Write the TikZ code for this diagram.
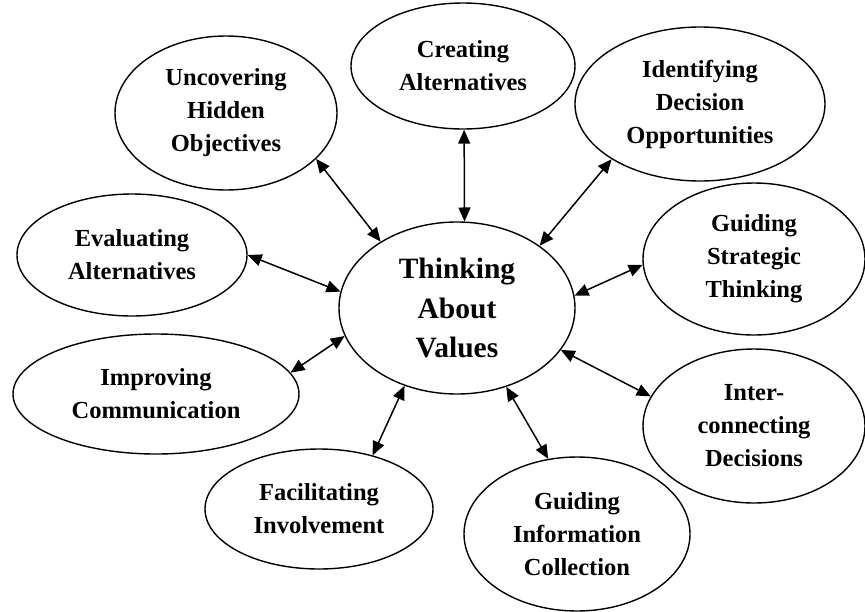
\documentclass[tikz,border=0pt]{standalone}
\usepackage{fontspec}
\setmainfont{Liberation Serif}
\usetikzlibrary{shapes.geometric,arrows.meta}
\tikzset{
  bubble/.style={ellipse, draw=black, line width=1.4pt, inner sep=0pt, align=center,
    font=\fontsize{24.5}{33}\selectfont\bfseries},
  link/.style={line width=1.5pt, {Triangle[length=14pt,width=12pt]}-{Triangle[length=14pt,width=12pt]}}
}
\begin{document}
\begin{tikzpicture}[x=1pt,y=-1pt]
\useasboundingbox (0,0) rectangle (865,611);
\node[bubble, minimum width=236pt, minimum height=172pt,
  font=\fontsize{29.5}{39.5}\selectfont\bfseries] (c) at (457,308) {Thinking\\About\\Values};
\node[bubble, minimum width=224pt, minimum height=126pt] (cr) at (463,66) {Creating\\Alternatives};
\node[bubble, minimum width=222pt, minimum height=154pt] (un) at (226,113) {Uncovering\\Hidden\\Objectives};
\node[bubble, minimum width=250pt, minimum height=154pt] (id) at (700,104) {Identifying\\Decision\\Opportunities};
\node[bubble, minimum width=230pt, minimum height=122pt] (ev) at (132,255) {Evaluating\\Alternatives};
\node[bubble, minimum width=222pt, minimum height=152pt] (gs) at (754,259) {Guiding\\Strategic\\Thinking};
\node[bubble, minimum width=286pt, minimum height=120pt] (im) at (156,394) {Improving\\Communication};
\node[bubble, minimum width=222pt, minimum height=154pt] (ic) at (754,426) {Inter-\\connecting\\Decisions};
\node[bubble, minimum width=228pt, minimum height=120pt] (fa) at (319,509) {Facilitating\\Involvement};
\node[bubble, minimum width=226pt, minimum height=154pt] (gi) at (577,534) {Guiding\\Information\\Collection};
\draw[link] (cr.-89) -- (c.85);
\draw[link] (un.-27) -- (c.139);
\draw[link] (ev.0) -- (c.172);
\draw[link] (id.-148) -- (c.37);
\draw[link] (gs.183) -- (c.6);
\draw[link] (im.9) -- (c.194);
\draw[link] (fa.45) -- (c.236);
\draw[link] (gi.111) -- (c.-58);
\draw[link] (ic.164) -- (c.-22);
\end{tikzpicture}
\end{document}
